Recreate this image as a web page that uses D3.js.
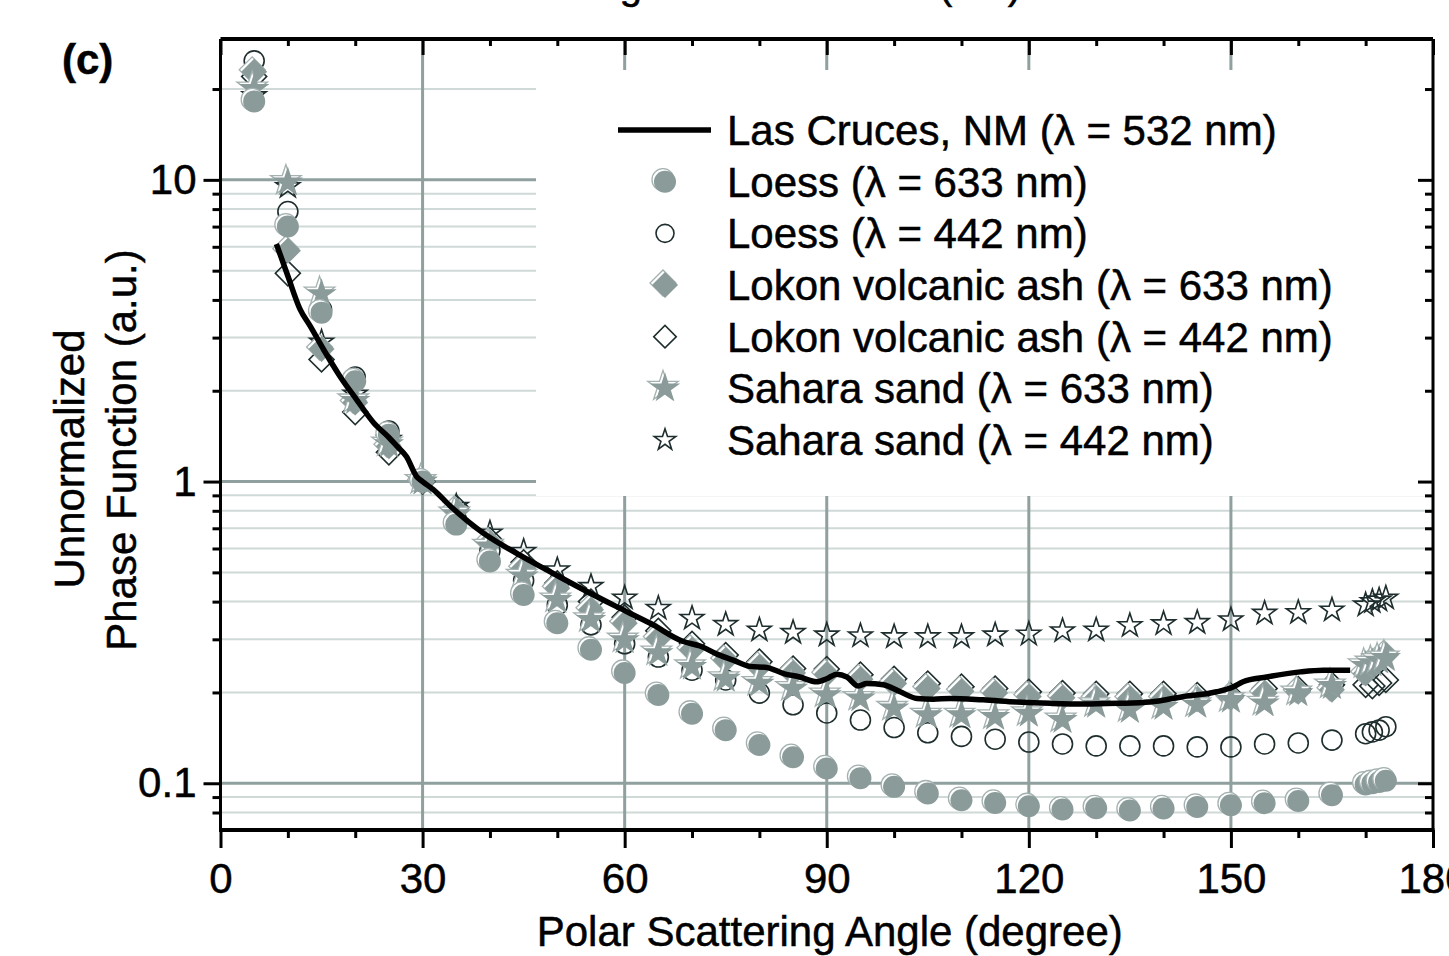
<!DOCTYPE html>
<html>
<head>
<meta charset="utf-8">
<script src="https://cdn.jsdelivr.net/npm/d3@7"></script>
<style>
body { margin: 0; background: #fff; }
text { font-family: "Liberation Sans", Arial, sans-serif; fill: #000; stroke: #000; stroke-width: 0.5px; }
</style>
</head>
<body>
<svg width="1449" height="956"></svg>
<script>
// ---- data ----
var angles = [5, 10, 15, 20, 25, 30, 35, 40, 45, 50, 55, 60, 65, 70, 75, 80, 85, 90, 95, 100,
    105, 110, 115, 120, 125, 130, 135, 140, 145, 150, 155, 160, 165, 170, 171, 172, 173];

var loess633 = [18.2, 7.0, 3.63, 2.15, 1.43, 1.0, 0.72, 0.543, 0.421, 0.339, 0.277, 0.232, 0.196, 0.170, 0.150, 0.134, 0.122, 0.112, 0.104, 0.0973,
    0.0925, 0.0879, 0.0861, 0.0839, 0.0818, 0.0826, 0.0812, 0.0825, 0.0835, 0.0845, 0.0859, 0.0873, 0.0913, 0.099, 0.100, 0.101, 0.102];
var loess442 = [24.8, 7.85, 3.72, 2.22, 1.47, 1.0, 0.75, 0.59, 0.47, 0.39, 0.335, 0.29, 0.262, 0.237, 0.220, 0.199, 0.182, 0.171, 0.162, 0.153,
    0.147, 0.143, 0.140, 0.137, 0.135, 0.133, 0.133, 0.133, 0.132, 0.132, 0.135, 0.136, 0.139, 0.146, 0.148, 0.150, 0.154];
var lokon633 = [22.8, 5.82, 2.75, 1.83, 1.31, 1.0, 0.80, 0.626, 0.516, 0.443, 0.376, 0.339, 0.302, 0.277, 0.256, 0.243, 0.232, 0.230, 0.221, 0.214,
    0.206, 0.202, 0.199, 0.194, 0.192, 0.191, 0.191, 0.191, 0.190, 0.192, 0.199, 0.201, 0.204, 0.231, 0.250, 0.256, 0.266];
var lokon442 = [22.0, 4.9, 2.54, 1.70, 1.25, 1.0, 0.82, 0.64, 0.54, 0.46, 0.40, 0.355, 0.32, 0.29, 0.266, 0.253, 0.240, 0.239, 0.229, 0.222,
    0.214, 0.209, 0.206, 0.201, 0.199, 0.198, 0.198, 0.198, 0.196, 0.195, 0.206, 0.205, 0.212, 0.212, 0.210, 0.215, 0.220];
var sahara633 = [20.0, 9.8, 4.18, 1.85, 1.33, 1.0, 0.78, 0.61, 0.485, 0.405, 0.348, 0.298, 0.270, 0.243, 0.222, 0.214, 0.206, 0.196, 0.191, 0.177,
    0.168, 0.168, 0.166, 0.170, 0.162, 0.182, 0.175, 0.179, 0.182, 0.189, 0.184, 0.199, 0.210, 0.245, 0.250, 0.255, 0.260];
var sahara442 = [19.0, 9.5, 2.9, 1.95, 1.38, 1.0, 0.828, 0.675, 0.587, 0.510, 0.449, 0.411, 0.380, 0.352, 0.336, 0.322, 0.316, 0.310, 0.308, 0.306,
    0.306, 0.306, 0.310, 0.312, 0.320, 0.322, 0.333, 0.338, 0.341, 0.348, 0.366, 0.368, 0.375, 0.390, 0.400, 0.405, 0.411];

// Las Cruces measurement (solid line)
var lcAngles = [8.3, 10, 11.8, 13.3, 15.3, 17.7, 20.2, 22.7, 25, 26.2, 27.6, 29.1, 30, 31.6, 34.1, 39, 43.9, 48.9, 53.9, 58.8,
    63.8, 68.7, 71.2, 73.7, 76.1, 78.6, 81.1, 83.6, 86, 88.5, 90, 91.5, 93, 94.7, 95.9, 98.4, 100.9, 103.4, 105.8, 108.3,
    113.2, 118.2, 123.2, 128.1, 133.1, 138, 143, 147.9, 150.4, 151.8, 155.3, 160.3, 163.7, 167.7];
var lcValues = [6.13, 4.8, 3.73, 3.28, 2.74, 2.24, 1.87, 1.57, 1.40, 1.31, 1.21, 1.04, 1.0, 0.94, 0.83, 0.675, 0.579, 0.503, 0.438, 0.385,
    0.339, 0.295, 0.285, 0.268, 0.256, 0.244, 0.242, 0.231, 0.225, 0.217, 0.222, 0.230, 0.225, 0.210, 0.214, 0.212, 0.201, 0.191, 0.190, 0.191,
    0.189, 0.186, 0.184, 0.183, 0.184, 0.186, 0.194, 0.201, 0.209, 0.217, 0.225, 0.234, 0.237, 0.237];

var legendLabels = ["Las Cruces, NM (\u03bb = 532 nm)", "Loess (\u03bb = 633 nm)", "Loess (\u03bb = 442 nm)",
    "Lokon volcanic ash (\u03bb = 633 nm)", "Lokon volcanic ash (\u03bb = 442 nm)",
    "Sahara sand (\u03bb = 633 nm)", "Sahara sand (\u03bb = 442 nm)"];

var xMajorTicks = [0, 30, 60, 90, 120, 150, 180];
var xMinorTicks = [10, 20, 40, 50, 70, 80, 100, 110, 130, 140, 160, 170];
var xGrid = [30, 60, 90, 120, 150];
var yMajorTicks = [0.1, 1, 10];
var yMinorTicks = [0.08, 0.09, 0.2, 0.3, 0.4, 0.5, 0.6, 0.7, 0.8, 0.9, 2, 3, 4, 5, 6, 7, 8, 9, 20];

(function() {
// ---- layout ----
var svg = d3.select('svg');
var pLeft = 220.5, pRight = 1433, pTop = 39, pBottom = 830;
var gray = '#8a9b99', dark = '#1e2d2d';
var gridMajor = '#8fa09e', gridMinor = '#cfd9d8';
var fs = 42;

var x = d3.scaleLinear().domain([0, 180]).range([pLeft, pRight]);
var y = d3.scaleLog().domain([0.07, 29.3]).range([pBottom, pTop]);

// title remnant cut off at the very top
svg.append('text').attr('x', 462).attr('y', -1).attr('font-size', 40)
    .text('Scattering')
    .append('tspan').attr('dx', 10).text(' Measurements (nm)');

// grid
var grid = svg.append('g').attr('class', 'grid');
grid.selectAll('.hminor').data(yMinorTicks).enter().append('line')
    .attr('x1', pLeft).attr('x2', pRight).attr('y1', d => y(d)).attr('y2', d => y(d))
    .attr('stroke', gridMinor).attr('stroke-width', 2);
grid.selectAll('.hmajor').data(yMajorTicks).enter().append('line')
    .attr('x1', pLeft).attr('x2', pRight).attr('y1', d => y(d)).attr('y2', d => y(d))
    .attr('stroke', gridMajor).attr('stroke-width', 3);
grid.selectAll('.vmajor').data(xGrid).enter().append('line')
    .attr('x1', d => x(d)).attr('x2', d => x(d)).attr('y1', pTop).attr('y2', pBottom)
    .attr('stroke', gridMajor).attr('stroke-width', 3);

// legend background hides the grid behind it
svg.append('rect').attr('x', 536).attr('y', 70).attr('width', pRight - 536).attr('height', 426).attr('fill', '#fff');

// marker shapes
function shapePath(shape, s) {
    if (shape === 'circle') return d3.symbol(d3.symbolCircle, Math.PI * s * s)();
    if (shape === 'diamond') return d3.symbol(d3.symbolSquare, 2 * s * s)();
    return d3.symbol(d3.symbolStar, s * s / 0.8908130915292852)();
}
function shapeRotate(shape) { return shape === 'diamond' ? 'rotate(45)' : ''; }

function drawMarker(g, shape, filled, size) {
    if (filled) {
        g.append('path').attr('d', shapePath(shape, size))
            .attr('transform', 'translate(-2,-2) ' + shapeRotate(shape))
            .attr('fill', '#fff').attr('stroke', '#a3b1b0').attr('stroke-width', 1.3);
        g.append('path').attr('d', shapePath(shape, size))
            .attr('transform', shapeRotate(shape))
            .attr('fill', gray);
    } else {
        g.append('path').attr('d', shapePath(shape, size))
            .attr('transform', shapeRotate(shape))
            .attr('fill', 'none').attr('stroke', dark).attr('stroke-width', 1.6);
    }
}

var series = [
    { values: sahara442, shape: 'star', filled: false, size: 12.5, legend: 6 },
    { values: loess442, shape: 'circle', filled: false, size: 10, legend: 2 },
    { values: lokon442, shape: 'diamond', filled: false, size: 12.5, legend: 4 },
    { values: lokon633, shape: 'diamond', filled: true, size: 13, legend: 3 },
    { values: sahara633, shape: 'star', filled: true, size: 16, legend: 5 },
    { values: loess633, shape: 'circle', filled: true, size: 11, legend: 1 }
];

var plot = svg.append('g').attr('class', 'markers');
series.forEach(function(s) {
    var pts = angles.map((a, i) => ({ a: a, v: s.values[i] }));
    plot.append('g').selectAll('g').data(pts).enter().append('g')
        .attr('transform', d => 'translate(' + x(d.a) + ',' + y(d.v) + ')')
        .each(function() { drawMarker(d3.select(this), s.shape, s.filled, s.size); });
});

// Las Cruces line
var lcData = lcAngles.map((a, i) => [a, lcValues[i]]);
svg.append('path').datum(lcData)
    .attr('d', d3.line().x(d => x(d[0])).y(d => y(d[1])).curve(d3.curveMonotoneX))
    .attr('fill', 'none').attr('stroke', '#000').attr('stroke-width', 5.5)
    .attr('stroke-linejoin', 'round');

// axes
function styleAxis(g) {
    g.select('.domain').remove();
    g.selectAll('.tick line').attr('stroke', '#000').attr('stroke-width', 3);
    g.selectAll('.tick text').attr('font-size', fs).attr('font-family', '"Liberation Sans", Arial, sans-serif')
        .attr('fill', '#000');
}
svg.append('g').attr('transform', 'translate(0,' + pBottom + ')')
    .call(d3.axisBottom(x).tickValues(xMajorTicks).tickSize(18).tickPadding(15).tickFormat(d3.format('d'))).call(styleAxis);
svg.append('g').attr('transform', 'translate(0,' + pBottom + ')')
    .call(d3.axisBottom(x).tickValues(xMinorTicks).tickSize(8).tickFormat('')).call(styleAxis);
svg.append('g').attr('transform', 'translate(0,' + pTop + ')')
    .call(d3.axisTop(x).tickValues(xMajorTicks).tickSize(-16).tickFormat('')).call(styleAxis);
svg.append('g').attr('transform', 'translate(0,' + pTop + ')')
    .call(d3.axisTop(x).tickValues(xMinorTicks).tickSize(-7).tickFormat('')).call(styleAxis);
svg.append('g').attr('transform', 'translate(' + pLeft + ',0)')
    .call(d3.axisLeft(y).tickValues(yMajorTicks).tickSize(17).tickPadding(7).tickFormat(d => String(d))).call(styleAxis);
svg.append('g').attr('transform', 'translate(' + pLeft + ',0)')
    .call(d3.axisLeft(y).tickValues(yMinorTicks).tickSize(8).tickFormat('')).call(styleAxis);
svg.append('g').attr('transform', 'translate(' + pRight + ',0)')
    .call(d3.axisRight(y).tickValues(yMajorTicks).tickSize(-15).tickFormat('')).call(styleAxis);
svg.append('g').attr('transform', 'translate(' + pRight + ',0)')
    .call(d3.axisRight(y).tickValues(yMinorTicks).tickSize(-8).tickFormat('')).call(styleAxis);

// frame
svg.append('line').attr('x1', pLeft).attr('x2', pRight).attr('y1', pTop).attr('y2', pTop).attr('stroke', '#000').attr('stroke-width', 4);
svg.append('line').attr('x1', pLeft - 1.5).attr('x2', pRight + 1.5).attr('y1', pBottom).attr('y2', pBottom).attr('stroke', '#000').attr('stroke-width', 4);
svg.append('line').attr('x1', pLeft).attr('x2', pLeft).attr('y1', pTop).attr('y2', pBottom).attr('stroke', '#000').attr('stroke-width', 3);
svg.append('line').attr('x1', pRight).attr('x2', pRight).attr('y1', pTop).attr('y2', pBottom).attr('stroke', '#000').attr('stroke-width', 3);

// axis titles
svg.append('text').attr('x', x(90) + 3).attr('y', 946).attr('text-anchor', 'middle').attr('font-size', fs)
    .text('Polar Scattering Angle (degree)');
svg.append('text').attr('transform', 'translate(84,459) rotate(-90)').attr('text-anchor', 'middle').attr('font-size', fs)
    .text('Unnormalized');
svg.append('text').attr('transform', 'translate(136,450) rotate(-90)').attr('text-anchor', 'middle').attr('font-size', fs)
    .text('Phase Function (a.u.)');

svg.append('text').attr('x', 62).attr('y', 74).attr('font-size', 42).attr('font-weight', 'bold').text('(c)');

// legend
var legend = svg.append('g').attr('class', 'legend');
var rowY = d3.scaleLinear().domain([0, 6]).range([130, 440]);
legend.append('line').attr('x1', 618).attr('x2', 711).attr('y1', rowY(0)).attr('y2', rowY(0))
    .attr('stroke', '#000').attr('stroke-width', 5.5);
series.forEach(function(s) {
    var g = legend.append('g').attr('transform', 'translate(665,' + rowY(s.legend) + ')');
    drawMarker(g, s.shape, s.filled, s.legend % 2 === 1 ? s.size : s.size * 0.9);
});
legend.selectAll('text').data(legendLabels).enter().append('text')
    .attr('x', 727).attr('y', (d, i) => rowY(i) + 15).attr('font-size', fs)
    .text(d => d);
})();
</script>
</body>
</html>
